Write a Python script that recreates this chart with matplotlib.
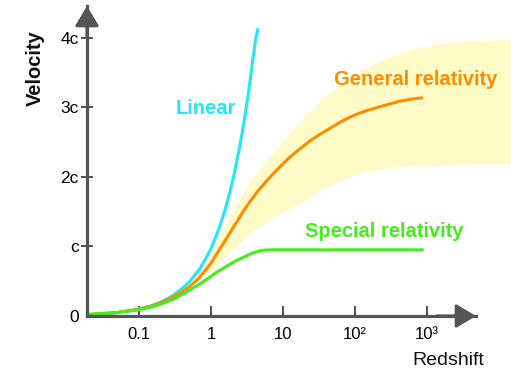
import matplotlib
matplotlib.use("Agg")
import matplotlib.pyplot as plt

plt.rcParams['font.family'] = ['Liberation Sans', 'DejaVu Sans']

# values (redshift z, velocity in units of c)
linear_z = [0.019, 0.03, 0.05, 0.07, 0.1, 0.14, 0.2, 0.25, 0.3, 0.4, 0.5, 0.6, 0.7, 0.85,
            1.0, 1.2, 1.4, 1.6, 1.84, 2.1, 2.5, 2.8, 3.16, 3.5, 3.8, 4.2, 4.5]
linear_v = [0.02, 0.03, 0.05, 0.07, 0.1, 0.14, 0.2, 0.25, 0.3, 0.4, 0.49, 0.59, 0.68, 0.83,
            0.97, 1.17, 1.36, 1.56, 1.79, 2.04, 2.43, 2.72, 3.06, 3.39, 3.68, 4.0, 4.14]

special_z = [0.019, 0.05, 0.1, 0.15, 0.2, 0.3, 0.4, 0.5, 0.6, 0.7, 0.85, 1.0, 1.2, 1.4, 1.6,
             1.8, 2.1, 2.5, 2.9, 3.3, 3.9, 4.5, 5.2, 6, 7, 10, 100, 900]
special_v = [0.02, 0.05, 0.09, 0.13, 0.17, 0.24, 0.31, 0.37, 0.42, 0.46, 0.52, 0.57, 0.63,
             0.67, 0.71, 0.74, 0.78, 0.82, 0.85, 0.88, 0.91, 0.93, 0.945, 0.95, 0.952, 0.952,
             0.952, 0.952]

general_z = [0.019, 0.05, 0.1, 0.15, 0.2, 0.27, 0.37, 0.5, 0.66, 0.81, 1.0, 1.21, 1.5, 1.84,
             2.3, 2.78, 3.5, 4.5, 6, 7.5, 9.1, 12, 16, 23.7, 30, 40, 50, 65, 85, 110, 150,
             220, 300, 420, 600, 880]
general_v = [0.02, 0.05, 0.1, 0.14, 0.19, 0.25, 0.33, 0.42, 0.53, 0.64, 0.76, 0.9, 1.05, 1.2,
             1.36, 1.5, 1.65, 1.8, 1.95, 2.06, 2.15, 2.27, 2.38, 2.52, 2.59, 2.67, 2.73, 2.8,
             2.86, 2.91, 2.96, 3.01, 3.05, 3.09, 3.12, 3.14]

band_upper_z = [0.7, 1.0, 1.56, 2.5, 3.7, 5.1, 9.1, 17.2, 30, 49, 85, 147, 250, 422, 900,
                2090, 5000, 14700]
band_upper_v = [0.52, 0.86, 1.28, 1.66, 1.96, 2.14, 2.46, 2.78, 3.04, 3.24, 3.43, 3.57, 3.68,
                3.77, 3.87, 3.93, 3.96, 3.97]
band_lower_z = [0.7, 1.33, 2.53, 4.8, 8.5, 13.8, 22, 32.7, 45, 80, 129, 220, 383, 1100, 3000,
                14700]
band_lower_v = [0.52, 0.76, 1.05, 1.28, 1.45, 1.57, 1.68, 1.79, 1.87, 1.99, 2.06, 2.11, 2.14,
                2.16, 2.18, 2.19]

x_ticks = [0.1, 1, 10, 100, 1000]
x_labels = ['0.1', '1', '10', '10²', '10³']
y_ticks = [0, 1, 2, 3, 4]
y_labels = ['0', 'c', '2c', '3c', '4c']

W, H = 511, 375
axis_col = '#555555'

fig = plt.figure(figsize=(W / 100, H / 100), dpi=100)
# axes box: left spine at x=87px, bottom at y=316px, arrow tips at 476px / 6px
ax = fig.add_axes([87 / W, (H - 316) / H, (476 - 87) / W, (316 - 6) / H])
ax.set_xscale('log')
ax.set_xlim(0.019, 4786)
ax.set_ylim(0, 4.46)

# uncertainty band of general relativity
band_x = band_upper_z + band_lower_z[::-1]
band_y = band_upper_v + band_lower_v[::-1]
ax.fill(band_x, band_y, color='#fffbc6', lw=0, clip_on=False, zorder=1)

ax.plot(linear_z, linear_v, color='#22e8f2', lw=2.2, zorder=3, solid_capstyle='butt')
ax.plot(general_z, general_v, color='#ff8c00', lw=2.2, zorder=4, solid_capstyle='butt')
ax.plot(special_z, special_v, color='#44ee1c', lw=2.2, zorder=5, solid_capstyle='butt')

ax.text(0.85, 2.91, 'Linear', color='#22e8f2', fontsize=14.5, fontweight='bold',
        ha='center', va='baseline')
ax.text(703, 3.32, 'General relativity', color='#ff8c00', fontsize=14.5, fontweight='bold',
        ha='center', va='baseline', clip_on=False)
ax.text(253, 1.14, 'Special relativity', color='#44ee1c', fontsize=14.5, fontweight='bold',
        ha='center', va='baseline')

# axes styling
for s in ['top', 'right']:
    ax.spines[s].set_visible(False)
for s in ['left', 'bottom']:
    ax.spines[s].set_color(axis_col)
    ax.spines[s].set_linewidth(2.3)
    ax.spines[s].set_zorder(6)
ax.patch.set_alpha(0)

ax.set_xticks(x_ticks, x_labels)
ax.minorticks_off()
ax.set_yticks(y_ticks, y_labels)
ax.tick_params(axis='x', direction='in', length=7, width=1.5, color=axis_col,
               pad=8, labelsize=12)
ax.tick_params(axis='y', direction='inout', length=8, width=1.5, color=axis_col,
               pad=2, labelsize=12.5)
ax.yaxis.get_major_ticks()[0].tick1line.set_visible(False)

# arrow heads at the axis ends
head = '-|>,head_length=0.6,head_width=0.36'
ax.annotate('', xy=(1, 0), xycoords='axes fraction', xytext=(0.9, 0),
            arrowprops=dict(arrowstyle=head, color=axis_col, lw=2.3,
                            mutation_scale=20, shrinkA=0, shrinkB=0), zorder=7)
ax.annotate('', xy=(0, 1), xycoords='axes fraction', xytext=(0, 0.9),
            arrowprops=dict(arrowstyle=head, color=axis_col, lw=2.3,
                            mutation_scale=20, shrinkA=0, shrinkB=0), zorder=7)

fig.text(35 / W, 1 - 68 / H, 'Velocity', rotation=90, fontsize=14.5, fontweight='bold',
         ha='center', va='center', color='#111111')
fig.text(448 / W, 1 - 365 / H, 'Redshift', fontsize=14, ha='center', va='baseline',
         color='#111111')

fig.savefig('out.png', dpi=100)
